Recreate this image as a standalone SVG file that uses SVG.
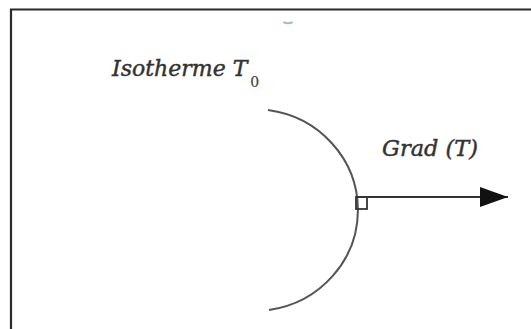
<svg xmlns="http://www.w3.org/2000/svg" width="531" height="329" viewBox="0 0 531 329">
  <style>
    .frame { fill: none; stroke: #2a2a2a; stroke-width: 2.2; }
    .curve { fill: none; stroke: #555; stroke-width: 2; }
    .conn { fill: none; stroke: #333; stroke-width: 2.2; }
    .lbl { font-family: "DejaVu Serif", "Liberation Serif", serif; font-style: italic; fill: #333; stroke: #333; stroke-width: 0.45; }
    .sub { font-style: normal; stroke-width: 0.2; fill: #444; }
  </style>
  <defs>
    <marker id="arrow" markerUnits="userSpaceOnUse" markerWidth="30" markerHeight="22" refX="28" refY="10" orient="auto">
      <path d="M0,0 L28,10 L0,20 Z" fill="#111"/>
    </marker>
  </defs>
  <rect width="531" height="329" fill="#fff"/>
  <path class="frame" d="M11,329 L11,9.5 L531,9.5"/>
  <path d="M284,22.5 Q288,24 292,22.5" fill="none" stroke="#8fa6c0" stroke-width="2" stroke-linecap="round" opacity="0.8"/>
  <g id="isotherme">
    <path class="curve" d="M268,110 A104,101 0 0 1 269,310"/>
    <text class="lbl" x="112" y="76" font-size="22">Isotherme T<tspan class="sub" dx="3" dy="11" font-size="14">0</tspan></text>
  </g>
  <g id="gradient">
    <rect x="356" y="197" width="11" height="12" fill="none" stroke="#333" stroke-width="1.8"/>
    <text class="lbl" x="382" y="156" font-size="23" textLength="96" lengthAdjust="spacingAndGlyphs">Grad (T)</text>
  </g>
  <g id="connectors">
    <line class="conn" x1="356" y1="197" x2="508" y2="197" marker-end="url(#arrow)"/>
  </g>
</svg>
